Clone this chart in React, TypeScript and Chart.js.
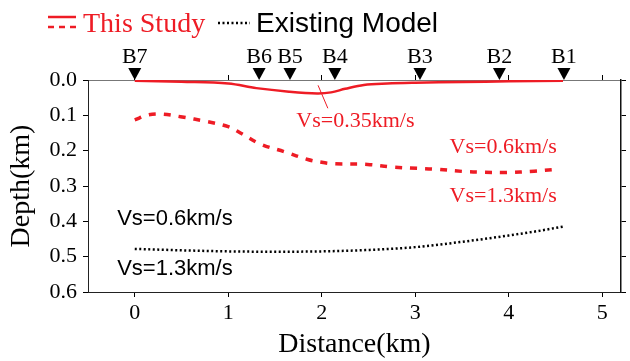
import React, { useEffect, useRef } from "react";
import { Chart, registerables } from "chart.js";

Chart.register(...registerables);

// ---------- data ----------
const xTicks = [0, 1, 2, 3, 4, 5];
const yTicks = [0, 0.1, 0.2, 0.3, 0.4, 0.5, 0.6];

const stationNames = ["B7", "B6", "B5", "B4", "B3", "B2", "B1"];
const stationDist = [0, 1.33, 1.66, 2.14, 3.05, 3.9, 4.59];

// This Study: Vs=0.35 / 0.6 boundary (solid)
const vs035Dist = [0, 0.5, 1.0, 1.3, 1.65, 1.95, 2.1, 2.25, 2.45, 2.7, 3.0, 3.5, 4.0, 4.58];
const vs035Depth = [0.002, 0.005, 0.01, 0.023, 0.033, 0.038, 0.035, 0.025, 0.014, 0.01, 0.0078, 0.0055, 0.0038, 0.002];

// This Study: Vs=0.6 / 1.3 boundary (dashed)
const vs06Dist = [0, 0.14, 0.28, 0.49, 0.78, 1.0, 1.13, 1.35, 1.6, 1.85, 2.0, 2.13, 2.49, 2.74, 3.02, 3.2, 3.52, 3.72, 3.97, 4.27, 4.5];
const vs06Depth = [0.113, 0.099, 0.096, 0.104, 0.118, 0.132, 0.15, 0.182, 0.203, 0.225, 0.233, 0.237, 0.239, 0.246, 0.25, 0.252, 0.259, 0.261, 0.262, 0.258, 0.253];

// Existing Model boundary (dotted)
const modelDist = [0, 0.5, 1, 1.5, 2, 2.5, 3, 3.5, 4, 4.3, 4.58];
const modelDepth = [0.478, 0.482, 0.485, 0.486, 0.485, 0.481, 0.473, 0.458, 0.44, 0.428, 0.415];

// leader line for the Vs=0.35 label
const pointerDist = [1.96, 2.065];
const pointerDepth = [0.015, 0.08];

// text labels anchored in data coordinates
const labelTexts = ["Vs=0.35km/s", "Vs=0.6km/s", "Vs=1.3km/s", "Vs=0.6km/s", "Vs=1.3km/s"];
const labelDist = [2.36, 3.94, 3.94, 0.43, 0.43];
const labelDepth = [0.118, 0.191, 0.328, 0.394, 0.536];
const labelGroup = ["study", "study", "study", "model", "model"];

const RED = "#ee1c25";
const SERIF = "'Liberation Serif', 'Times New Roman', serif";
const SANS = "'Liberation Sans', Arial, sans-serif";

const toPts = (xs: number[], ys: number[]) => xs.map((x, i) => ({ x, y: ys[i] }));

const overlayPlugin = {
  id: "overlay",
  afterDatasetsDraw(chart: any) {
    const { ctx, chartArea } = chart;
    const xs = chart.scales.x;
    const ys = chart.scales.y;
    ctx.save();
    // stations
    ctx.fillStyle = "#000";
    ctx.textAlign = "center";
    ctx.textBaseline = "alphabetic";
    ctx.font = `22px ${SERIF}`;
    stationDist.forEach((d, i) => {
      const px = xs.getPixelForValue(d);
      const top = chartArea.top;
      ctx.beginPath();
      ctx.moveTo(px, top);
      ctx.lineTo(px - 6.5, top - 12);
      ctx.lineTo(px + 6.5, top - 12);
      ctx.closePath();
      ctx.fill();
      ctx.fillText(stationNames[i], px, top - 17);
    });
    // layer labels
    ctx.textBaseline = "middle";
    labelTexts.forEach((t, i) => {
      const px = xs.getPixelForValue(labelDist[i]);
      const py = ys.getPixelForValue(labelDepth[i]);
      if (labelGroup[i] === "study") {
        ctx.fillStyle = RED;
        ctx.font = `22px ${SERIF}`;
      } else {
        ctx.fillStyle = "#000";
        ctx.font = `22px ${SANS}`;
      }
      ctx.fillText(t, px, py);
    });
    // legend
    ctx.lineCap = "butt";
    ctx.strokeStyle = RED;
    ctx.lineWidth = 2.5;
    ctx.beginPath();
    ctx.moveTo(48, 17);
    ctx.lineTo(76, 17);
    ctx.stroke();
    ctx.setLineDash([6, 5]);
    ctx.beginPath();
    ctx.moveTo(48, 27);
    ctx.lineTo(76, 27);
    ctx.stroke();
    ctx.strokeStyle = "#000";
    ctx.setLineDash([2, 2.5]);
    ctx.lineWidth = 2.5;
    ctx.beginPath();
    ctx.moveTo(218, 23);
    ctx.lineTo(250, 23);
    ctx.stroke();
    ctx.setLineDash([]);
    ctx.textAlign = "left";
    ctx.textBaseline = "alphabetic";
    ctx.fillStyle = RED;
    ctx.font = `28px ${SERIF}`;
    ctx.fillText("This Study", 83, 32);
    ctx.fillStyle = "#000";
    ctx.font = `28px ${SANS}`;
    ctx.fillText("Existing Model", 256, 32);
    ctx.restore();
  },
};

const gridOpts = {
  drawOnChartArea: false,
  drawTicks: true,
  tickLength: 5,
  color: "#000",
  lineWidth: 1,
};

export default function App() {
  const ref = useRef<HTMLCanvasElement | null>(null);
  useEffect(() => {
    if (!ref.current) return;
    const chart = new Chart(ref.current, {
      type: "line",
      data: {
        datasets: [
          {
            label: "This Study (Vs=0.35)",
            data: toPts(vs035Dist, vs035Depth),
            borderColor: RED,
            borderWidth: 2.5,
            pointRadius: 0,
            tension: 0.35,
            fill: false,
          },
          {
            label: "pointer",
            data: toPts(pointerDist, pointerDepth),
            borderColor: RED,
            borderWidth: 1,
            pointRadius: 0,
            fill: false,
          },
          {
            label: "This Study (Vs=0.6)",
            data: toPts(vs06Dist, vs06Depth),
            borderColor: RED,
            borderWidth: 3.5,
            borderDash: [7, 8],
            pointRadius: 0,
            tension: 0.35,
            fill: false,
          },
          {
            label: "Existing Model",
            data: toPts(modelDist, modelDepth),
            borderColor: "#000",
            borderWidth: 2.5,
            borderDash: [2, 2.5],
            pointRadius: 0,
            cubicInterpolationMode: "monotone",
            fill: false,
          },
        ],
      },
      options: {
        animation: false,
        responsive: false,
        devicePixelRatio: 1,
        layout: { padding: { top: 80, right: 9, left: 0, bottom: 0 } },
        plugins: {
          legend: { display: false },
          tooltip: { enabled: false },
        },
        scales: {
          x: {
            type: "linear",
            position: "bottom",
            min: -0.5,
            max: 5.2,
            afterBuildTicks: (s: any) => {
              s.ticks = xTicks.map((v) => ({ value: v }));
            },
            afterFit: (s: any) => {
              s.height = 69;
            },
            grid: gridOpts,
            border: { display: true, color: "#222", width: 1 },
            ticks: {
              color: "#000",
              font: { family: SERIF, size: 22 },
              padding: 3,
              maxRotation: 0,
              callback: (v: any) => String(v),
            },
            title: {
              display: true,
              text: "Distance(km)",
              color: "#000",
              font: { family: SERIF, size: 28 },
              padding: { top: 0, bottom: 0 },
            },
          },
          x2: {
            type: "linear",
            axis: "x",
            position: "top",
            min: -0.5,
            max: 5.2,
            afterBuildTicks: (s: any) => {
              s.ticks = xTicks.map((v) => ({ value: v }));
            },
            afterFit: (s: any) => {
              s.height = 0;
            },
            grid: gridOpts,
            border: { display: true, color: "#777", width: 1 },
            ticks: { display: false },
          },
          y: {
            type: "linear",
            position: "left",
            reverse: true,
            min: 0,
            max: 0.6,
            afterBuildTicks: (s: any) => {
              s.ticks = yTicks.map((v) => ({ value: v }));
            },
            afterFit: (s: any) => {
              s.width = 88;
            },
            grid: gridOpts,
            border: { display: true, color: "#222", width: 1 },
            ticks: {
              color: "#000",
              font: { family: SERIF, size: 22 },
              padding: 6,
              callback: (v: any) => Number(v).toFixed(1),
            },
            title: {
              display: true,
              text: "Depth(km)",
              color: "#000",
              font: { family: SERIF, size: 28 },
              padding: { top: 5, bottom: 0 },
            },
          },
          y2: {
            type: "linear",
            axis: "y",
            position: "right",
            reverse: true,
            min: 0,
            max: 0.6,
            afterBuildTicks: (s: any) => {
              s.ticks = yTicks.map((v) => ({ value: v }));
            },
            afterFit: (s: any) => {
              s.width = 0;
            },
            grid: gridOpts,
            border: { display: true, color: "#111", width: 1.5 },
            ticks: { display: false },
          },
        },
      },
      plugins: [overlayPlugin],
    } as any);
    return () => chart.destroy();
  }, []);
  return (
    <div style={{ position: "fixed", left: 0, top: 0, width: 630, height: 361, background: "#fff" }}>
      <canvas ref={ref} width={630} height={361} style={{ display: "block" }} />
    </div>
  );
}
